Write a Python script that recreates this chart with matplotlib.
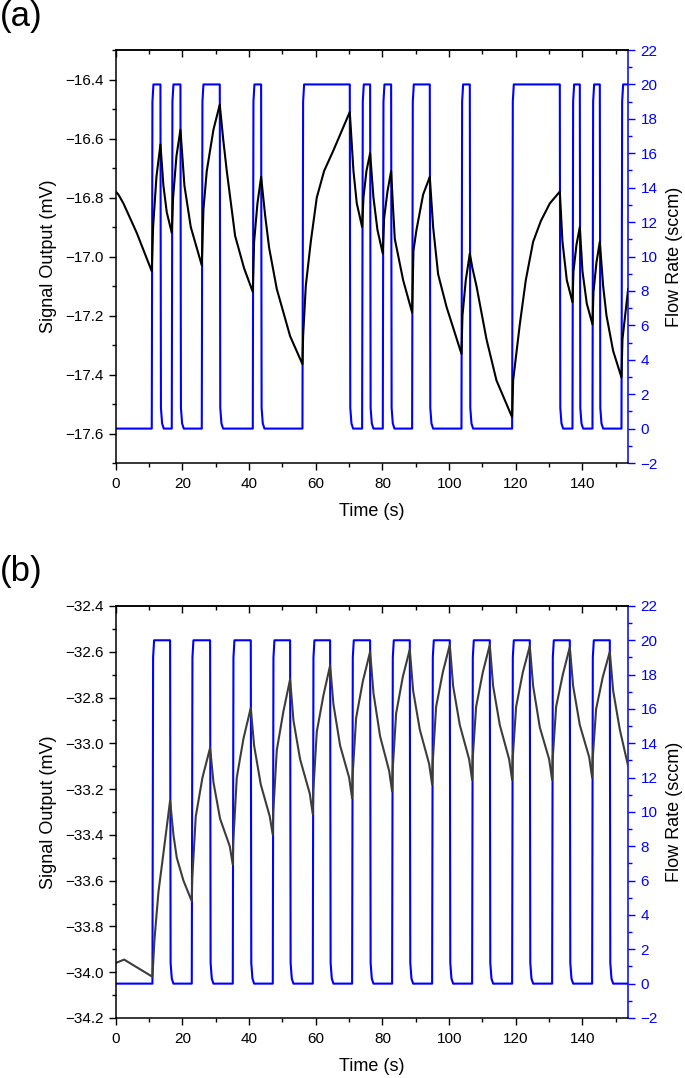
import numpy as np
import matplotlib.pyplot as plt
from matplotlib.ticker import MultipleLocator, FuncFormatter

plt.rcParams['font.family'] = ['Liberation Sans', 'DejaVu Sans']

# ---- panel (a): mass-flow switching times (s) ----
flow_a_on = [10.8, 16.8, 25.8, 41.1, 56.0, 73.9, 80.1, 88.9, 103.7, 118.9,
             137.0, 143.0, 151.7]
flow_a_off = [13.4, 19.4, 31.2, 43.6, 70.2, 76.3, 82.6, 94.2, 106.2, 133.2,
              139.2, 145.2, 160.0]

# ---- panel (a): sensor signal ----
sig_a_t = [0, 0.8, 2.3, 6.3, 10.8,
           11.2, 12.2, 13.4,
           14.3, 15.3, 16.8,
           17.2, 18.2, 19.4,
           20.6, 22.5, 25.8,
           26.3, 27.3, 29.3, 31.2,
           32.2, 33.3, 35.8, 38.5, 41.1,
           41.5, 42.5, 43.6,
           44.8, 46.0, 48.3, 52.3, 56.0,
           56.2, 57.0, 58.5, 60.3, 62.5, 65.3, 70.2,
           71.3, 72.3, 73.9,
           74.3, 75.2, 76.3,
           77.3, 78.5, 80.1,
           80.5, 81.5, 82.6,
           83.2, 83.7, 86.2, 88.9,
           89.3, 90.2, 92.2, 94.2,
           95.2, 96.7, 99.2, 103.7,
           104.0, 105.0, 106.2,
           107.0, 108.2, 111.2, 114.2, 118.9,
           119.2, 121.2, 123.0, 125.2, 127.5, 130.2, 133.2,
           134.0, 135.3, 137.0,
           137.3, 138.2, 139.2,
           140.0, 141.3, 143.0,
           143.3, 144.2, 145.2,
           146.2, 147.2, 149.2, 151.7,
           152.0, 153.0, 153.7]
sig_a_v = [-16.78, -16.79, -16.82, -16.92, -17.05,
           -16.90, -16.73, -16.62,
           -16.76, -16.85, -16.92,
           -16.80, -16.66, -16.57,
           -16.76, -16.90, -17.03,
           -16.84, -16.71, -16.57, -16.485,
           -16.60, -16.71, -16.93, -17.04, -17.12,
           -16.95, -16.82, -16.73,
           -16.86, -16.97, -17.11, -17.27, -17.365,
           -17.27, -17.10, -16.95, -16.80, -16.71, -16.64, -16.51,
           -16.71, -16.82, -16.90,
           -16.80, -16.71, -16.65,
           -16.80, -16.91, -16.99,
           -16.87, -16.78, -16.71,
           -16.84, -16.94, -17.08, -17.19,
           -16.98, -16.91, -16.79, -16.73,
           -16.90, -17.06, -17.17, -17.33,
           -17.20, -17.08, -16.99,
           -17.04, -17.10, -17.28, -17.42, -17.545,
           -17.42, -17.23, -17.08, -16.95, -16.88, -16.82, -16.78,
           -16.95, -17.08, -17.155,
           -17.05, -16.96, -16.90,
           -17.05, -17.16, -17.23,
           -17.12, -17.02, -16.95,
           -17.10, -17.20, -17.32, -17.41,
           -17.28, -17.18, -17.11]

# ---- panel (b): mass-flow switching times (s) ----
flow_b_on = [11.0, 22.8, 35.1, 47.1, 59.1, 70.9, 82.9, 94.9, 106.9, 118.9,
             130.9, 142.9]
flow_b_off = [16.3, 28.3, 40.5, 52.3, 64.3, 76.3, 88.2, 100.2, 112.2, 124.2,
              136.2, 148.2]

# ---- panel (b): sensor signal ----
sig_b_t = [0, 2.5, 11.0,
           11.6, 12.8, 14.3, 16.3,
           17.3, 18.3, 20.3, 22.8,
           22.95, 24.0, 26.0, 28.3,
           29.3, 31.3, 34.2, 35.1,
           35.25, 36.3, 38.3, 40.5,
           41.5, 43.5, 46.2, 47.1,
           47.25, 48.3, 50.3, 52.3,
           53.3, 55.3, 58.2, 59.1,
           59.25, 60.3, 62.3, 64.3,
           65.3, 67.3, 70.0, 70.9,
           71.05, 72.1, 74.1, 76.3,
           77.3, 79.3, 82.0, 82.9,
           83.05, 84.1, 86.1, 88.2,
           89.2, 91.2, 94.0, 94.9,
           95.05, 96.1, 98.1, 100.2,
           101.2, 103.2, 106.0, 106.9,
           107.05, 108.1, 110.1, 112.2,
           113.2, 115.2, 118.0, 118.9,
           119.05, 120.1, 122.1, 124.2,
           125.2, 127.2, 130.0, 130.9,
           131.05, 132.1, 134.1, 136.2,
           137.2, 139.2, 142.0, 142.9,
           143.05, 144.1, 146.1, 148.2,
           149.2, 151.2, 153.7]
sig_b_v = [-33.96, -33.945, -34.02,
           -33.86, -33.65, -33.48, -33.25,
           -33.40, -33.50, -33.60, -33.69,
           -33.59, -33.32, -33.15, -33.02,
           -33.17, -33.33, -33.45, -33.53,
           -33.43, -33.15, -32.98, -32.845,
           -33.01, -33.18, -33.32, -33.40,
           -33.30, -33.03, -32.86, -32.72,
           -32.90, -33.07, -33.22, -33.31,
           -33.21, -32.95, -32.79, -32.66,
           -32.83, -33.01, -33.15, -33.24,
           -33.14, -32.89, -32.73, -32.60,
           -32.78, -32.97, -33.12, -33.21,
           -33.12, -32.87, -32.71, -32.59,
           -32.77, -32.94, -33.09, -33.18,
           -33.09, -32.84, -32.69, -32.57,
           -32.75, -32.92, -33.07, -33.16,
           -33.07, -32.84, -32.69, -32.57,
           -32.75, -32.92, -33.07, -33.16,
           -33.07, -32.84, -32.69, -32.575,
           -32.75, -32.93, -33.07, -33.16,
           -33.07, -32.84, -32.70, -32.58,
           -32.75, -32.92, -33.06, -33.15,
           -33.07, -32.85, -32.71, -32.60,
           -32.77, -32.94, -33.10]

FLOW_HIGH = 20.0
BLUE = '#0000ff'


def flow_trace(t_on, t_off, t_end=160.0):
    # square pulses with a short ramp and a rounded foot after switching off
    t, f = [0.0], [0.0]
    for a, b in zip(t_on, t_off):
        t += [a, a + 0.2, a + 0.5, b, b + 0.15, b + 0.5, b + 1.0]
        f += [0.0, 0.95 * FLOW_HIGH, FLOW_HIGH, FLOW_HIGH, 1.2, 0.3, 0.0]
    if t[-1] < t_end:
        t.append(t_end)
        f.append(0.0)
    return np.array(t), np.array(f)


minus_fmt = FuncFormatter(lambda v, p: f'{v:.1f}'.replace('-', '\u2212'))


def draw_panel(ax, t_sig, v_sig, sig_color, t_on, t_off, ylim):
    axf = ax.twinx()
    tf, ff = flow_trace(t_on, t_off)
    axf.plot(tf, ff, color=BLUE, lw=1.5)
    ax.plot(t_sig, v_sig, color=sig_color, lw=1.5)
    ax.set_zorder(axf.get_zorder() + 1)
    ax.patch.set_visible(False)

    ax.set_xlim(0, 153.7)
    ax.set_ylim(*ylim)
    axf.set_ylim(-2, 22)

    ax.xaxis.set_major_locator(MultipleLocator(20))
    ax.xaxis.set_minor_locator(MultipleLocator(10))
    ax.yaxis.set_major_locator(MultipleLocator(0.2))
    ax.yaxis.set_minor_locator(MultipleLocator(0.1))
    ax.yaxis.set_major_formatter(minus_fmt)
    axf.yaxis.set_major_locator(MultipleLocator(2))
    axf.yaxis.set_minor_locator(MultipleLocator(1))

    ax.tick_params(which='both', direction='out', width=1, labelsize=11,
                   right=False, top=False)
    ax.tick_params(which='major', length=5)
    ax.tick_params(which='minor', length=3)
    ax.tick_params(axis='x', pad=5)
    axf.tick_params(axis='y', which='both', colors=BLUE, width=1,
                    labelsize=11, direction='out', pad=4)
    axf.tick_params(axis='y', which='major', length=5)
    axf.tick_params(axis='y', which='minor', length=3)

    for s in ['left', 'bottom', 'top']:
        ax.spines[s].set_linewidth(1.1)
        axf.spines[s].set_visible(False)
    ax.spines['right'].set_visible(False)
    axf.spines['right'].set_color(BLUE)
    axf.spines['right'].set_linewidth(1.1)

    sec = ax.secondary_xaxis('top')
    sec.xaxis.set_major_locator(MultipleLocator(20))
    sec.xaxis.set_minor_locator(MultipleLocator(10))
    sec.tick_params(which='both', direction='in', width=1, labeltop=False)
    sec.tick_params(which='major', length=5)
    sec.tick_params(which='minor', length=3)
    sec.spines['top'].set_linewidth(1.1)

    ax.set_xlabel('Time (s)', fontsize=13, labelpad=9)
    ax.set_ylabel('Signal Output (mV)', fontsize=13, labelpad=6)
    axf.set_ylabel('Flow Rate (sccm)', fontsize=13, color='black', labelpad=6)
    return axf


fig = plt.figure(figsize=(6.85, 10.78), dpi=100)
ax_a = fig.add_axes([0.169, 0.5705, 0.748, 0.3831])
ax_b = fig.add_axes([0.169, 0.0557, 0.748, 0.3822])

draw_panel(ax_a, sig_a_t, sig_a_v, 'black', flow_a_on, flow_a_off,
           (-17.7, -16.3))
draw_panel(ax_b, sig_b_t, sig_b_v, '#3c3c3c', flow_b_on, flow_b_off,
           (-34.2, -32.4))

fig.text(0.0, 1.0, '(a)', fontsize=25, ha='left', va='top')
fig.text(0.0, 0.485, '(b)', fontsize=25, ha='left', va='top')

fig.savefig('out.png', dpi=100)
